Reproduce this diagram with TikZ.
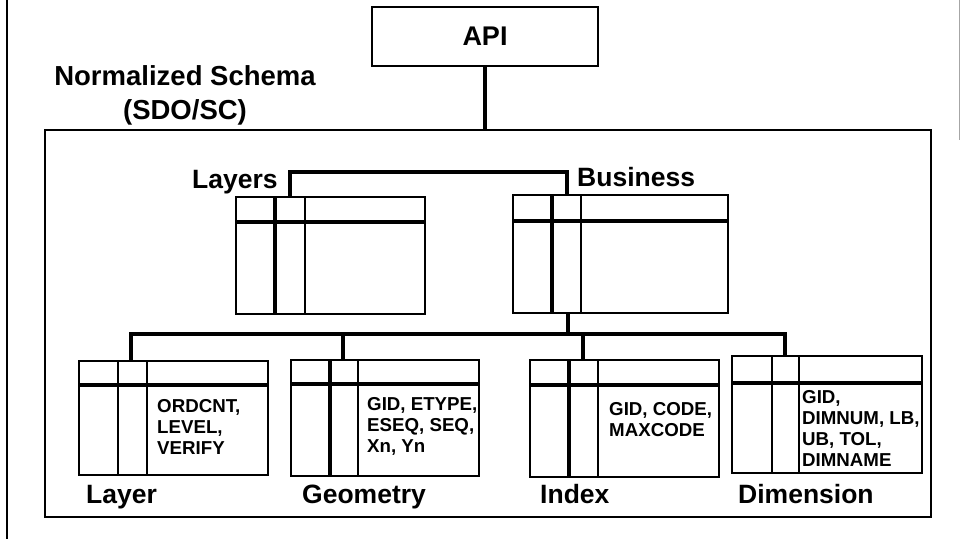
\documentclass[tikz,border=0pt]{standalone}
\usepackage{fontspec}
\setmainfont{Liberation Sans}
\tikzset{
  frame/.style={draw, line width=2pt, inner sep=0pt},
  tblbox/.style={draw, line width=1.5pt, inner sep=0pt, anchor=north west},
  hdrline/.style={line width=3.5pt},
  keycol/.style={line width=3.5pt},
  plaincol/.style={line width=1.4pt},
  conn/.style={line width=3.5pt},
  title/.style={font=\fontsize{27}{30}\selectfont\bfseries, inner sep=0pt},
  tname/.style={font=\fontsize{26.5}{28}\selectfont\bfseries, inner sep=0pt, anchor=base west},
  fields/.style={font=\fontsize{18.7}{21}\selectfont\bfseries, inner sep=0pt, anchor=north west, align=left},
}
% table: name, left, top, right, bottom, header y, first column x, second column x, first column style
\newcommand{\dbtab}[9]{%
  \node[tblbox, minimum width={(#4-#2)*1pt}, minimum height={(#5-#3)*1pt}] (#1) at (#2,#3) {};
  \draw[#9] (#7,#3) -- (#7,#5);
  \draw[plaincol] (#8,#3) -- (#8,#5);
  \draw[hdrline] (#2,#6) -- (#4,#6);
}
\begin{document}
\begin{tikzpicture}[x=1pt, y=-1pt]
\useasboundingbox (0,0) rectangle (961,539);

% page edges
\draw[line width=2pt] (7,0) -- (7,539);
\draw[line width=1pt, black!35] (959,0) -- (959,140);

% API and schema frame
\node[frame, minimum width=226pt, minimum height=59pt, title] (api) at (485,36) {API};
\node[frame, minimum width=886pt, minimum height=387pt] (schema) at (488,323.5) {};
\node[title, align=center, font=\fontsize{27.5}{34}\selectfont\bfseries] (schemaname) at (185,95) {Normalized Schema\\(SDO/SC)};
\draw[conn] (api.south) -- (api.south |- schema.north);

% tables
\dbtab{layers}{235}{196}{424}{313}{222}{275}{305}{keycol}
\dbtab{business}{512}{194}{727}{312}{221}{552}{581}{keycol}
\dbtab{layer}{78}{360}{267}{474}{385}{118}{147}{plaincol}
\dbtab{geometry}{290}{359}{478}{475}{384}{330}{358}{keycol}
\dbtab{index}{529}{359}{718}{476}{385}{569}{598}{keycol}
\dbtab{dimension}{731}{355}{921}{472}{383}{772}{799}{plaincol}

% table names
\node[tname] (layersname) at (192,188) {Layers};
\node[tname] (businessname) at (577,186) {Business};
\node[tname] (layername) at (86,503) {Layer};
\node[tname] (geometryname) at (302,503) {Geometry};
\node[tname] (indexname) at (540,503) {Index};
\node[tname] (dimensionname) at (738,503) {Dimension};

% column lists
\node[fields] (layerfields) at (157,399) {ORDCNT,\\LEVEL,\\VERIFY};
\node[fields] (geometryfields) at (367,397) {GID, ETYPE,\\ESEQ, SEQ,\\Xn, Yn};
\node[fields] (indexfields) at (609,402) {GID, CODE,\\MAXCODE};
\node[fields] (dimensionfields) at (802,390) {GID,\\DIMNUM, LB,\\UB, TOL,\\DIMNAME};

% connectors
\coordinate (topbar) at (0,172);
\coordinate (lowbar) at (0,334);
\draw[conn] ([xshift=55pt]layers.north west) -- ([xshift=55pt]layers.north west |- topbar)
  -- ([xshift=55pt]business.north west |- topbar) -- ([xshift=55pt]business.north west);
\draw[conn] ([xshift=56pt]business.south west) -- ([xshift=56pt]business.south west |- lowbar);
\draw[conn] ([xshift=53pt]layer.north west) -- ([xshift=53pt]layer.north west |- lowbar)
  -- ([xshift=54pt]dimension.north west |- lowbar) -- ([xshift=54pt]dimension.north west);
\draw[conn] ([xshift=53pt]geometry.north west) -- ([xshift=53pt]geometry.north west |- lowbar);
\draw[conn] ([xshift=54pt]index.north west) -- ([xshift=54pt]index.north west |- lowbar);
\end{tikzpicture}
\end{document}
